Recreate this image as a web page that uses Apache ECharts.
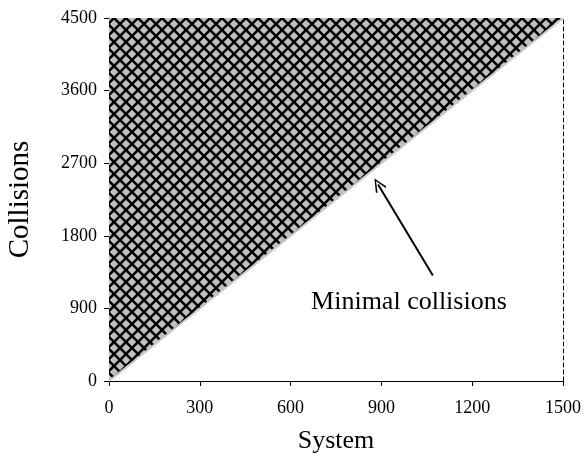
<!DOCTYPE html>
<html>
<head>
<meta charset="utf-8">
<script src="https://cdn.jsdelivr.net/npm/echarts@6/dist/echarts.min.js"></script>
<style>
html,body{margin:0;padding:0;background:#fff;}
#chart{width:584px;height:460px;}
</style>
</head>
<body>
<div id="chart"></div>
<script>
// Data
const systemValues = [0, 1500];
const minimalCollisions = [0, 4500];
const xTicks = [0, 300, 600, 900, 1200, 1500];
const yTicks = [0, 900, 1800, 2700, 3600, 4500];
const annotationText = 'Minimal collisions';
const arrowFrom = [1070, 1308];
const arrowTo = [889, 2436];
const textAt = [991, 973];

// crosshatch pattern
function makePattern() {
  const s = 12;
  const c = document.createElement('canvas');
  c.width = s; c.height = s;
  const g = c.getContext('2d');
  g.fillStyle = '#c0c0c0';
  g.fillRect(0, 0, s, s);
  g.strokeStyle = '#000';
  g.lineWidth = 2.6;
  [-s, 0, s].forEach(function (k) {
    g.beginPath(); g.moveTo(k - 3, -3); g.lineTo(k + s + 3, s + 3); g.stroke();
  });
  [0, s, 2 * s].forEach(function (k) {
    g.beginPath(); g.moveTo(k + 3, -3); g.lineTo(k - s - 3, s + 3); g.stroke();
  });
  return c;
}

const FONT = '"Liberation Serif", "Times New Roman", serif';
const chart = echarts.init(document.getElementById('chart'), null, {renderer: 'canvas'});
const lineData = systemValues.map(function (x, i) { return [x, minimalCollisions[i]]; });
const plain = function (v) { return String(v); };

chart.setOption({
  animation: false,
  backgroundColor: '#fff',
  grid: {left: 109, right: 21, top: 18, bottom: 79, containLabel: false, outerBoundsMode: 'none'},
  xAxis: {
    type: 'value', min: xTicks[0], max: xTicks[xTicks.length - 1], interval: 300,
    name: 'System', nameLocation: 'middle', nameGap: 47,
    nameTextStyle: {fontFamily: FONT, fontSize: 26, color: '#000'},
    axisLine: {show: true, onZero: false, lineStyle: {color: '#000', width: 1}},
    axisTick: {show: true, length: 5, lineStyle: {color: '#000'}},
    axisLabel: {fontFamily: FONT, fontSize: 18, color: '#000', margin: 18, formatter: plain},
    splitLine: {show: false}
  },
  yAxis: [{
    type: 'value', min: yTicks[0], max: yTicks[yTicks.length - 1], interval: 900,
    name: 'Collisions', nameLocation: 'middle', nameGap: 74, nameRotate: 90,
    nameTextStyle: {fontFamily: FONT, fontSize: 29, color: '#000'},
    axisLine: {show: true, onZero: false, lineStyle: {color: '#000', width: 1}},
    axisTick: {show: true, length: 5, lineStyle: {color: '#000'}},
    axisLabel: {fontFamily: FONT, fontSize: 18, color: '#000', margin: 12, formatter: plain},
    splitLine: {show: false}
  }, {
    type: 'value', position: 'right', min: 0, max: 4500, interval: 900,
    axisLine: {show: true, onZero: false, lineStyle: {color: '#000', width: 1, type: [4, 3]}},
    axisTick: {show: false}, axisLabel: {show: false}, splitLine: {show: false}
  }],
  series: [{
    type: 'line',
    data: lineData,
    showSymbol: false,
    symbol: 'none',
    lineStyle: {color: '#c8c8c8', width: 2},
    areaStyle: {origin: 'end', color: {image: makePattern(), repeat: 'repeat'}, opacity: 1},
    z: 2,
    markLine: {
      silent: true,
      symbol: ['none', 'path://M5,0 L10,9 L9,10 L5,2.2 L1,10 L0,9 Z'],
      symbolSize: [12, 14],
      label: {show: false},
      lineStyle: {color: '#000', width: 2, type: 'solid'},
      data: [[{coord: arrowFrom}, {coord: arrowTo}]]
    },
    markPoint: {
      silent: true,
      symbol: 'circle', symbolSize: 0,
      label: {show: true, position: 'inside', formatter: annotationText,
        fontFamily: FONT, fontSize: 26, color: '#000'},
      data: [{coord: textAt}]
    }
  }]
});
</script>
</body>
</html>
